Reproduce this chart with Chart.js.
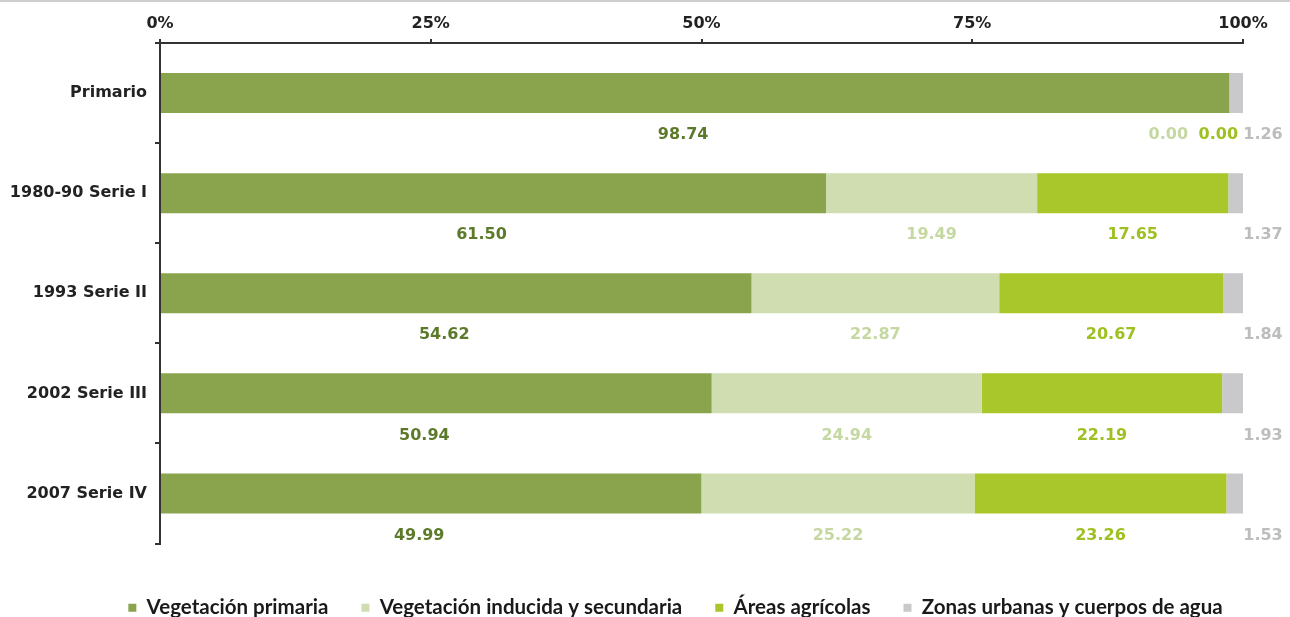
<!DOCTYPE html>
<html>
<head>
<meta charset="utf-8">
<script src="https://cdn.jsdelivr.net/npm/chart.js@4.4.1/dist/chart.umd.min.js"></script>
<style>
html, body { margin: 0; padding: 0; background: #fff; }
#wrap { position: relative; width: 1290px; height: 617px; overflow: hidden; }
#topline { position: absolute; left: 0; top: 0; width: 1290px; height: 2px; background: #cfcfcf; }
</style>
</head>
<body>
<div id="wrap">
  <div id="topline"></div>
  <canvas id="myChart" width="1290" height="617"></canvas>
</div>
<script>
var categories = ["Primario", "1980-90 Serie I", "1993 Serie II", "2002 Serie III", "2007 Serie IV"];
var vegPrimaria = [98.74, 61.50, 54.62, 50.94, 49.99];
var vegInducida = [0.00, 19.49, 22.87, 24.94, 25.22];
var areasAgricolas = [0.00, 17.65, 20.67, 22.19, 23.26];
var zonasUrbanas = [1.26, 1.37, 1.84, 1.93, 1.53];
var seriesNames = ["Vegetación primaria", "Vegetación inducida y secundaria", "Áreas agrícolas", "Zonas urbanas y cuerpos de agua"];
var tickValues = [0, 25, 50, 75, 100];

var barColors = ["#8aa44e", "#d0ddb1", "#a9c62a", "#c9c9cc"];
var textColors = ["#5d7a2a", "#c5d8a2", "#9ec020", "#bdbdbd"];

// value labels under each segment
var valueLabels = {
  id: 'valueLabels',
  afterDatasetsDraw: function (chart) {
    var ctx = chart.ctx;
    var xs = chart.scales.x;
    var zeroShift = [0, 61, 11, 0];
    ctx.save();
    ctx.font = 'bold 16px "DejaVu Sans"';
    ctx.textAlign = 'center';
    ctx.textBaseline = 'middle';
    chart.data.datasets.forEach(function (ds, di) {
      var meta = chart.getDatasetMeta(di);
      meta.data.forEach(function (bar, i) {
        var v = ds.data[i];
        var x = (bar.x + bar.base) / 2;
        if (di === 3) x = xs.getPixelForValue(100) + 20;
        else if (v === 0) x = bar.base - zeroShift[di];
        else if (di === 0) x -= 12;
        ctx.fillStyle = textColors[di];
        ctx.fillText(v.toFixed(2), x, bar.y + 42);
      });
    });
    ctx.restore();
  }
};

// legend sits a bit right of the canvas centre
var legendShift = {
  id: 'legendShift',
  afterLayout: function (chart) {
    chart.legend.left += 54;
    chart.legend.right += 54;
  }
};

var datasets = [vegPrimaria, vegInducida, areasAgricolas, zonasUrbanas].map(function (d, k) {
  return {
    label: seriesNames[k],
    data: d,
    backgroundColor: barColors[k],
    borderWidth: 0,
    barPercentage: 0.4,
    categoryPercentage: 1.0
  };
});

new Chart(document.getElementById("myChart"), {
  type: 'bar',
  data: { labels: categories, datasets: datasets },
  plugins: [valueLabels, legendShift],
  options: {
    indexAxis: 'y',
    responsive: false,
    animation: false,
    layout: { padding: { left: 0, right: 47, top: 0, bottom: -11 } },
    scales: {
      x: {
        position: 'top',
        stacked: true,
        min: 0,
        max: 100,
        afterBuildTicks: function (scale) {
          scale.ticks = tickValues.map(function (v) { return { value: v }; });
        },
        afterFit: function (scale) { scale.height = 43; },
        ticks: {
          padding: 6,
          color: '#222',
          font: { family: '"DejaVu Sans"', weight: 'bold', size: 16 },
          callback: function (v) { return v + '%'; }
        },
        grid: { drawOnChartArea: false, tickLength: 4, color: '#333', lineWidth: 2 },
        border: { color: '#333', width: 2 }
      },
      xSpace: {
        type: 'linear',
        position: 'bottom',
        display: true,
        afterFit: function (scale) { scale.height = 21; },
        ticks: { display: false },
        grid: { display: false },
        border: { display: false }
      },
      y: {
        stacked: true,
        afterFit: function (scale) { scale.width = 160; },
        ticks: {
          padding: 8,
          color: '#222',
          font: { family: '"DejaVu Sans"', weight: 'bold', size: 16 }
        },
        grid: { drawOnChartArea: false, offset: true, tickLength: 5, color: '#333', lineWidth: 2 },
        border: { color: '#333', width: 2 }
      }
    },
    plugins: {
      tooltip: { enabled: false },
      legend: {
        position: 'bottom',
        labels: {
          boxWidth: 8,
          boxHeight: 8,
          padding: 33,
          color: '#1a1a1a',
          font: { family: 'Lato', weight: 'bold', size: 20.5 }
        }
      }
    }
  }
});
</script>
</body>
</html>
